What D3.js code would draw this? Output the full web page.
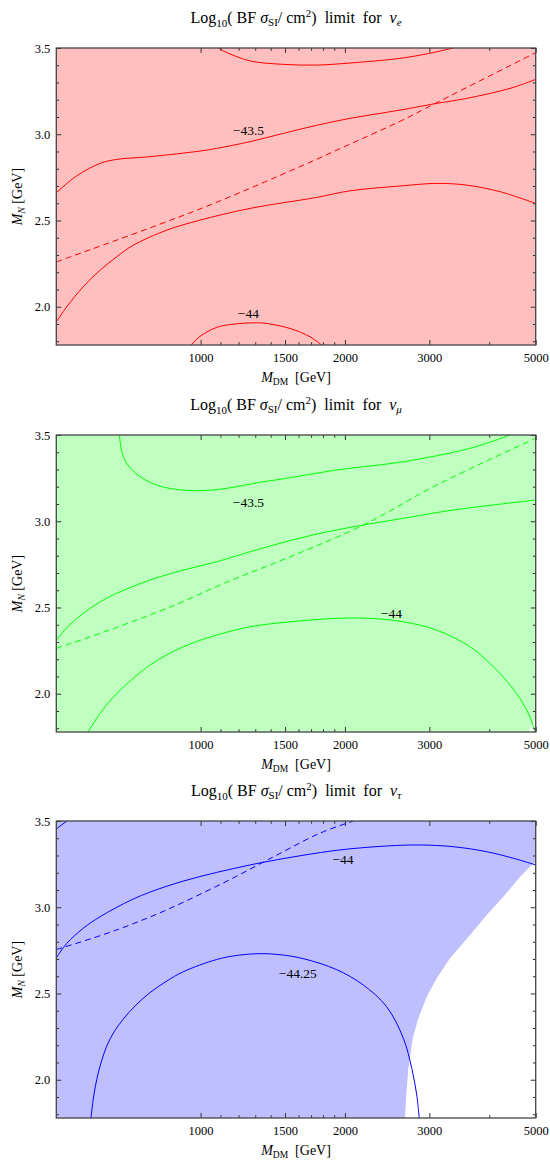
<!DOCTYPE html>
<html>
<head>
<meta charset="utf-8">
<script src="https://cdn.jsdelivr.net/npm/d3@7"></script>
<style>
  html, body { margin: 0; padding: 0; background: #fff; }
  svg { display: block; }
  text { font-family: "Liberation Serif", "Times New Roman", serif; fill: #000; }
</style>
</head>
<body>
<svg id="chart" width="550" height="1161"></svg>
<script>
// ---- axis ticks ----
const xTickValues = [1000, 1500, 2000, 3000, 5000];
const xMinorTicks = [1100, 1200, 1300, 1400, 1600, 1700, 1800, 1900, 4000];
const yTickValues = [2.0, 2.5, 3.0, 3.5];
const yMinorTicks = [1.8, 1.9, 2.1, 2.2, 2.3, 2.4, 2.6, 2.7, 2.8, 2.9, 3.1, 3.2, 3.3, 3.4];

// ---- nu_e : contours [M_DM (GeV), log10 M_N] ----
const nueUpper = [[1089, 3.5], [1110, 3.486], [1151, 3.466], [1268, 3.425], [1488, 3.405], [1747, 3.401],
  [2050, 3.413], [2606, 3.44], [3000, 3.469], [3366, 3.5]];
const nueMiddle = [[500, 2.661], [551, 2.758], [617, 2.831], [668, 2.854], [784, 2.870], [1000, 2.903],
  [1080, 2.918], [1268, 2.957], [1488, 3.005], [1747, 3.052], [2050, 3.092], [2606, 3.14], [3108, 3.179],
  [3590, 3.208], [4420, 3.266], [5000, 3.318]];
const nueDashed = [[500, 2.26], [997, 2.567], [1620, 2.815], [2050, 2.943], [2606, 3.075], [3108, 3.183], [5000, 3.473]];
const nueLower = [[500, 1.912], [526, 2.0], [569, 2.116], [617, 2.212], [668, 2.289], [724, 2.357], [850, 2.444],
  [997, 2.502], [1268, 2.57], [1747, 2.634], [2050, 2.672], [2606, 2.70], [3108, 2.715], [3590, 2.705],
  [4212, 2.667], [5000, 2.599]];
const nueArch = [[950, 1.77], [997, 1.828], [1080, 1.88], [1170, 1.899], [1309, 1.907], [1374, 1.903],
  [1536, 1.874], [1691, 1.826], [1803, 1.77]];
const nueLabels = [["−43.5", 1258, 2.995], ["−44", 1258, 1.934]];

// ---- nu_mu ----
const numuUpper = [[677, 3.5], [685, 3.403], [701, 3.336], [748, 3.258], [810, 3.21], [877, 3.187], [997, 3.177],
  [1134, 3.191], [1330, 3.226], [1464, 3.243], [1923, 3.297], [2648, 3.345], [3532, 3.413], [3952, 3.452], [4420, 3.5]];
const numuMiddle = [[500, 2.311], [530, 2.392], [569, 2.466], [615, 2.530], [668, 2.582], [784, 2.659], [920, 2.717],
  [1080, 2.765], [1268, 2.823], [1464, 2.872], [1775, 2.93], [2185, 2.978], [2648, 3.017], [3366, 3.065], [5000, 3.123]];
const numuDashed = [[500, 2.263], [617, 2.35], [850, 2.495], [1170, 2.663], [1420, 2.755], [2185, 2.978],
  [3108, 3.21], [5000, 3.481]];
const numuLower = [[580, 1.77], [617, 1.886], [668, 2.0], [784, 2.166], [920, 2.272], [1080, 2.34], [1268, 2.388],
  [1464, 2.411], [1923, 2.437], [2257, 2.437], [2648, 2.417], [3108, 2.369], [3648, 2.272], [4146, 2.137],
  [4565, 2.0], [4826, 1.886], [4960, 1.80], [4990, 1.77]];
const numuLabels = [["−43.5", 1258, 3.082], ["−44", 2500, 2.437]];
const numuUnfilled = [[4830, 1.7782], [5000, 1.858], [5000, 1.7782]];

// ---- nu_tau ----
const nutauUpper = [[500, 2.707], [526, 2.791], [569, 2.878], [617, 2.945], [724, 3.048], [850, 3.122],
  [997, 3.178], [1170, 3.224], [1396, 3.268], [1923, 3.330], [2444, 3.355], [2869, 3.361], [3366, 3.351],
  [3952, 3.322], [4491, 3.284], [5000, 3.245]];
const nutauCorner = [[500, 3.454], [526, 3.5]];
const nutauDashed = [[500, 2.755], [617, 2.835], [724, 2.905], [850, 2.985], [997, 3.075], [1170, 3.17],
  [1352, 3.262], [1464, 3.312], [1775, 3.43], [2083, 3.5]];
const nutauArch = [[590, 1.77], [598, 1.9], [607, 2.0], [620, 2.1], [637, 2.195], [660, 2.278], [690, 2.352],
  [730, 2.428], [784, 2.505], [850, 2.572], [920, 2.626], [1080, 2.697], [1200, 2.722], [1330, 2.731], [1464, 2.725],
  [1637, 2.702], [1923, 2.638], [2185, 2.549], [2444, 2.423], [2648, 2.24], [2757, 2.066], [2824, 1.911], [2859, 1.77]];
const nutauLabels = [["−44", 1982, 3.249], ["−44.25", 1595, 2.591]];
const nutauUnfilled = [[2669, 1.7782], [2683, 1.892], [2712, 2.066], [2770, 2.24], [2845, 2.356], [2962, 2.481],
  [3108, 2.588], [3313, 2.704], [3648, 2.839], [3952, 2.955], [4280, 3.061], [4638, 3.177], [4905, 3.245],
  [5000, 3.26], [5000, 1.7782]];

const panels = [
  { flavour: "e", fill: "#ffbfbf", stroke: "#ff0000", solid: [nueUpper, nueMiddle, nueLower, nueArch],
    dashed: nueDashed, labels: nueLabels, unfilled: null },
  { flavour: "μ", fill: "#bfffbf", stroke: "#00ff00", solid: [numuUpper, numuMiddle, numuLower],
    dashed: numuDashed, labels: numuLabels, unfilled: numuUnfilled },
  { flavour: "τ", fill: "#bfbfff", stroke: "#0000ff", solid: [nutauUpper, nutauCorner, nutauArch],
    dashed: nutauDashed, labels: nutauLabels, unfilled: nutauUnfilled }
];

// ---- layout ----
const plotLeft = 56.3, plotRight = 535.7, plotHeight = 297;
const panelTops = [48, 435, 821];
const yMin = Math.log10(60), yMax = 3.5;

const svg = d3.select("#chart");
const x = d3.scaleLog().domain([500, 5000]).range([plotLeft, plotRight]);

panels.forEach((p, i) => {
  const T = panelTops[i], B = T + plotHeight;
  const y = d3.scaleLinear().domain([yMin, yMax]).range([B, T]);
  const g = svg.append("g");
  const clipId = "clip" + i;
  svg.append("clipPath").attr("id", clipId)
    .append("rect").attr("x", plotLeft).attr("y", T).attr("width", plotRight - plotLeft).attr("height", plotHeight);

  const body = g.append("g").attr("clip-path", `url(#${clipId})`);
  body.append("rect").attr("x", plotLeft).attr("y", T)
    .attr("width", plotRight - plotLeft).attr("height", plotHeight).attr("fill", p.fill);
  if (p.unfilled) {
    body.append("path").datum(p.unfilled)
      .attr("d", d3.line().x(d => x(d[0])).y(d => y(d[1])).curve(d3.curveLinearClosed))
      .attr("fill", "#fff");
  }
  const line = d3.line().x(d => x(d[0])).y(d => y(d[1])).curve(d3.curveCatmullRom.alpha(0.5));
  p.solid.forEach(c => {
    body.append("path").datum(c).attr("d", line)
      .attr("fill", "none").attr("stroke", p.stroke).attr("stroke-width", 1);
  });
  body.append("path").datum(p.dashed).attr("d", line)
    .attr("fill", "none").attr("stroke", p.stroke).attr("stroke-width", 1).attr("stroke-dasharray", "6,4");

  // contour labels
  g.selectAll("text.clabel").data(p.labels).join("text").attr("class", "clabel")
    .attr("x", d => x(d[1])).attr("y", d => y(d[2]))
    .attr("text-anchor", "middle").attr("font-size", 13.5).text(d => d[0]);

  // frame ticks (inward) on all four sides
  const axes = [
    { gen: d3.axisBottom, at: `translate(0,${B})`, sc: x, major: xTickValues, minor: xMinorTicks, labels: true },
    { gen: d3.axisTop, at: `translate(0,${T})`, sc: x, major: xTickValues, minor: xMinorTicks, labels: false },
    { gen: d3.axisLeft, at: `translate(${plotLeft},0)`, sc: y, major: yTickValues, minor: yMinorTicks, labels: true },
    { gen: d3.axisRight, at: `translate(${plotRight},0)`, sc: y, major: yTickValues, minor: yMinorTicks, labels: false }
  ];
  axes.forEach((a, k) => {
    const isX = k < 2;
    const fmt = isX ? d3.format("d") : d3.format(".1f");
    const major = a.gen(a.sc).tickValues(a.major).tickSize(-5)
      .tickPadding(isX ? 8 : 6).tickFormat(a.labels ? fmt : () => "");
    const ga = g.append("g").attr("transform", a.at).call(major);
    ga.append("g").call(a.gen(a.sc).tickValues(a.minor).tickSize(-2.8).tickFormat(() => ""));
    ga.selectAll(".domain").remove();
    ga.selectAll("line").attr("stroke", "#333");
    ga.selectAll("text").attr("font-family", "Liberation Serif").attr("font-size", 12.5).attr("fill", "#000");
  });

  g.append("rect").attr("x", plotLeft).attr("y", T)
    .attr("width", plotRight - plotLeft).attr("height", plotHeight)
    .attr("fill", "none").attr("stroke", "#444").attr("stroke-width", 1.3);

  // title
  const cx = (plotLeft + plotRight) / 2;
  const title = g.append("text").attr("x", cx).attr("y", T - 25)
    .attr("text-anchor", "middle").attr("font-size", 16).style("white-space", "pre");
  title.append("tspan").text("Log");
  title.append("tspan").attr("dy", 4).attr("font-size", 11).text("10");
  title.append("tspan").attr("dy", -4).text("( BF ");
  title.append("tspan").attr("font-style", "italic").text("σ");
  title.append("tspan").attr("dy", 3).attr("font-size", 11).text("SI");
  title.append("tspan").attr("dy", -3).text("/ cm");
  title.append("tspan").attr("dy", -6).attr("font-size", 11).text("2");
  title.append("tspan").attr("dy", 6).text(")  limit  for  ");
  title.append("tspan").attr("font-style", "italic").text("ν");
  title.append("tspan").attr("dy", 3).attr("font-size", 11).attr("font-style", "italic").text(p.flavour);

  // x axis label
  const xl = g.append("text").attr("x", cx).attr("y", B + 37)
    .attr("text-anchor", "middle").attr("font-size", 14).style("white-space", "pre");
  xl.append("tspan").attr("font-style", "italic").text("M");
  xl.append("tspan").attr("dy", 3).attr("font-size", 9.5).text("DM");
  xl.append("tspan").attr("dy", -3).text("  [GeV]");

  // y axis label
  const yl = g.append("text").attr("transform", `translate(22,${(T + B) / 2}) rotate(-90)`)
    .attr("text-anchor", "middle").attr("font-size", 14).style("white-space", "pre");
  yl.append("tspan").attr("font-style", "italic").text("M");
  yl.append("tspan").attr("dy", 3).attr("font-size", 9.5).attr("font-style", "italic").text("N");
  yl.append("tspan").attr("dy", -3).text(" [GeV]");
});
</script>
</body>
</html>
